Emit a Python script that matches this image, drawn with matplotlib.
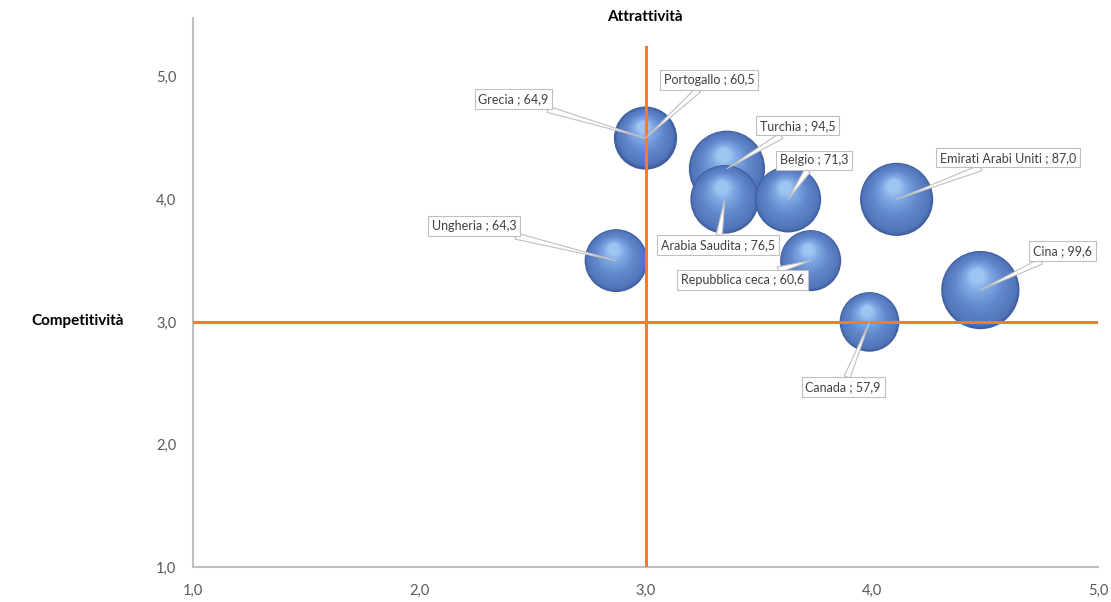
import numpy as np
import matplotlib
matplotlib.use("Agg")
import matplotlib.pyplot as plt
from matplotlib.transforms import ScaledTranslation
from matplotlib.ticker import FixedLocator, FuncFormatter

# dati
paesi = ["Turchia", "Cina", "Emirati Arabi Uniti", "Arabia Saudita", "Belgio",
         "Grecia", "Ungheria", "Repubblica ceca", "Portogallo", "Canada"]
attrattivita = [3.36, 4.48, 4.11, 3.35, 3.63, 3.0, 2.87, 3.73, 3.0, 3.99]
competitivita = [4.25, 3.26, 4.0, 4.0, 4.0, 4.5, 3.5, 3.5, 4.5, 3.0]
valori = [94.5, 99.6, 87.0, 76.5, 71.3, 64.9, 64.3, 60.6, 60.5, 57.9]
x_ticks = [1.0, 2.0, 3.0, 4.0, 5.0]
y_ticks = [1.0, 2.0, 3.0, 4.0, 5.0]
soglia_x = 3.0
soglia_y = 3.0

# posizione delle etichette (offset in punti rispetto alla bolla)
offset_etichette = {
    "Grecia": (-95, 28), "Portogallo": (46, 42), "Turchia": (51, 31),
    "Arabia Saudita": (-5, -33), "Belgio": (19, 28), "Emirati Arabi Uniti": (80, 30),
    "Ungheria": (-102, 25), "Repubblica ceca": (-49, -14), "Cina": (59, 28),
    "Canada": (-19, -47),
}

plt.rcParams['font.family'] = ['Lato', 'DejaVu Sans']

fig = plt.figure(figsize=(11.11, 6.02), dpi=100)
ax = fig.add_axes([193 / 1111, 35 / 602, 905 / 1111, 549 / 602])
ax.set_xlim(1.0, 5.0)
ax.set_ylim(1.0, 5.48)


def fmt(v, pos=None):
    return f"{v:.1f}".replace(".", ",")


# bolle con effetto sfera: cerchi sovrapposti sempre piu chiari
stops_t = [0.0, 0.08, 0.45, 0.8, 1.0]
stops_c = np.array([[0.25, 0.37, 0.62],
                    [0.32, 0.46, 0.73],
                    [0.38, 0.53, 0.80],
                    [0.50, 0.66, 0.89],
                    [0.62, 0.77, 0.95]])
n_layers = 30
ordine = np.argsort(valori)[::-1]
for rank, i in enumerate(ordine):
    r_pt = 3.92 * np.sqrt(valori[i]) * 0.72
    for k in range(n_layers):
        t = k / (n_layers - 1)
        rr = r_pt * (1 - 0.82 * t)
        dx = -0.08 * r_pt * t
        dy = 0.36 * r_pt * t
        col = [np.interp(t, stops_t, stops_c[:, c]) for c in range(3)]
        trans = ax.transData + ScaledTranslation(dx / 72, dy / 72, fig.dpi_scale_trans)
        ax.scatter([attrattivita[i]], [competitivita[i]], s=(2 * rr) ** 2,
                   color=col, edgecolors='none', transform=trans,
                   zorder=3 + rank * 0.01)

# linee di soglia
ax.axvline(soglia_x, ymin=0, ymax=(5.24 - 1.0) / 4.48, color='#ED7D31', lw=2.2, zorder=5)
ax.axhline(soglia_y, color='#ED7D31', lw=2.2, zorder=5)

# etichette
for i, nome in enumerate(paesi):
    ax.annotate(f"{nome} ; {fmt(valori[i])}",
                xy=(attrattivita[i], competitivita[i]),
                xytext=offset_etichette[nome], textcoords='offset points',
                ha='center', va='center', fontsize=9, color='#404040',
                bbox=dict(boxstyle='square,pad=0.3', fc='white', ec='#bfbfbf', lw=0.8),
                arrowprops=dict(arrowstyle='wedge,tail_width=0.5,shrink_factor=0.5',
                                fc='white', ec='#bfbfbf', lw=0.8,
                                shrinkA=0, shrinkB=0),
                zorder=10)

# assi
for s in ['top', 'right']:
    ax.spines[s].set_visible(False)
for s in ['left', 'bottom']:
    ax.spines[s].set_color('#bfbfbf')
    ax.spines[s].set_linewidth(1.5)
ax.xaxis.set_major_locator(FixedLocator(x_ticks))
ax.yaxis.set_major_locator(FixedLocator(y_ticks))
ax.xaxis.set_major_formatter(FuncFormatter(fmt))
ax.yaxis.set_major_formatter(FuncFormatter(fmt))
ax.tick_params(axis='both', length=0, labelsize=10.5, labelcolor='#595959')
ax.tick_params(axis='x', pad=12)
ax.tick_params(axis='y', pad=12)

fig.text(645 / 1111, 1 - 17 / 602, "Attrattività", ha='center', va='center',
         fontsize=11, fontweight='bold', color='black')
fig.text(78 / 1111, 1 - 321 / 602, "Competitività", ha='center', va='center',
         fontsize=11, fontweight='bold', color='black')

fig.savefig("out.png", dpi=100, facecolor='white')
